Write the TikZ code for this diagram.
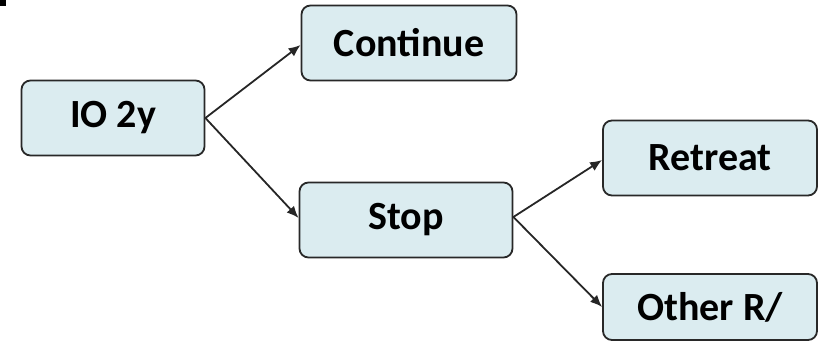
\documentclass[tikz,border=0pt]{standalone}
\usepackage{fontspec}
\setmainfont{Carlito}
\usetikzlibrary{arrows.meta}
\definecolor{boxfill}{RGB}{219,236,240}
\definecolor{boxline}{RGB}{40,40,40}
\tikzset{
  box/.style={draw=boxline, line width=1.8pt, fill=boxfill, rounded corners=9pt,
    minimum height=75pt, inner sep=0pt, font=\fontsize{40}{44}\selectfont\bfseries},
  conn/.style={draw=black!85, line width=1.8pt, -{Latex[length=12pt,width=10pt]}}
}
\begin{document}
\begin{tikzpicture}[x=1pt,y=-1pt]
\useasboundingbox (0,0) rectangle (821,350);
\fill[black] (0,0) rectangle (6,6);
\node[box, minimum width=183pt] (io) at (113,118) {IO 2y};
\node[box, minimum width=215pt] (cont) at (409,43) {Continue};
\node[box, minimum width=213pt] (stop) at (406,220) {Stop};
\node[box, minimum width=214pt] (ret) at (710,158) {Retreat};
\node[box, minimum width=214pt, minimum height=66pt] (oth) at (710,307) {Other R/};
\coordinate (ioR) at (io.east);
\draw[conn] (ioR) -- (cont.west|-0,45);
\draw[conn] (ioR) -- (stop.west|-0,218);
\coordinate (stR) at ([yshift=3pt]stop.east);
\draw[conn] (stR) -- (ret.west|-0,160);
\draw[conn] (stR) -- (oth.west|-0,307);
\end{tikzpicture}
\end{document}
